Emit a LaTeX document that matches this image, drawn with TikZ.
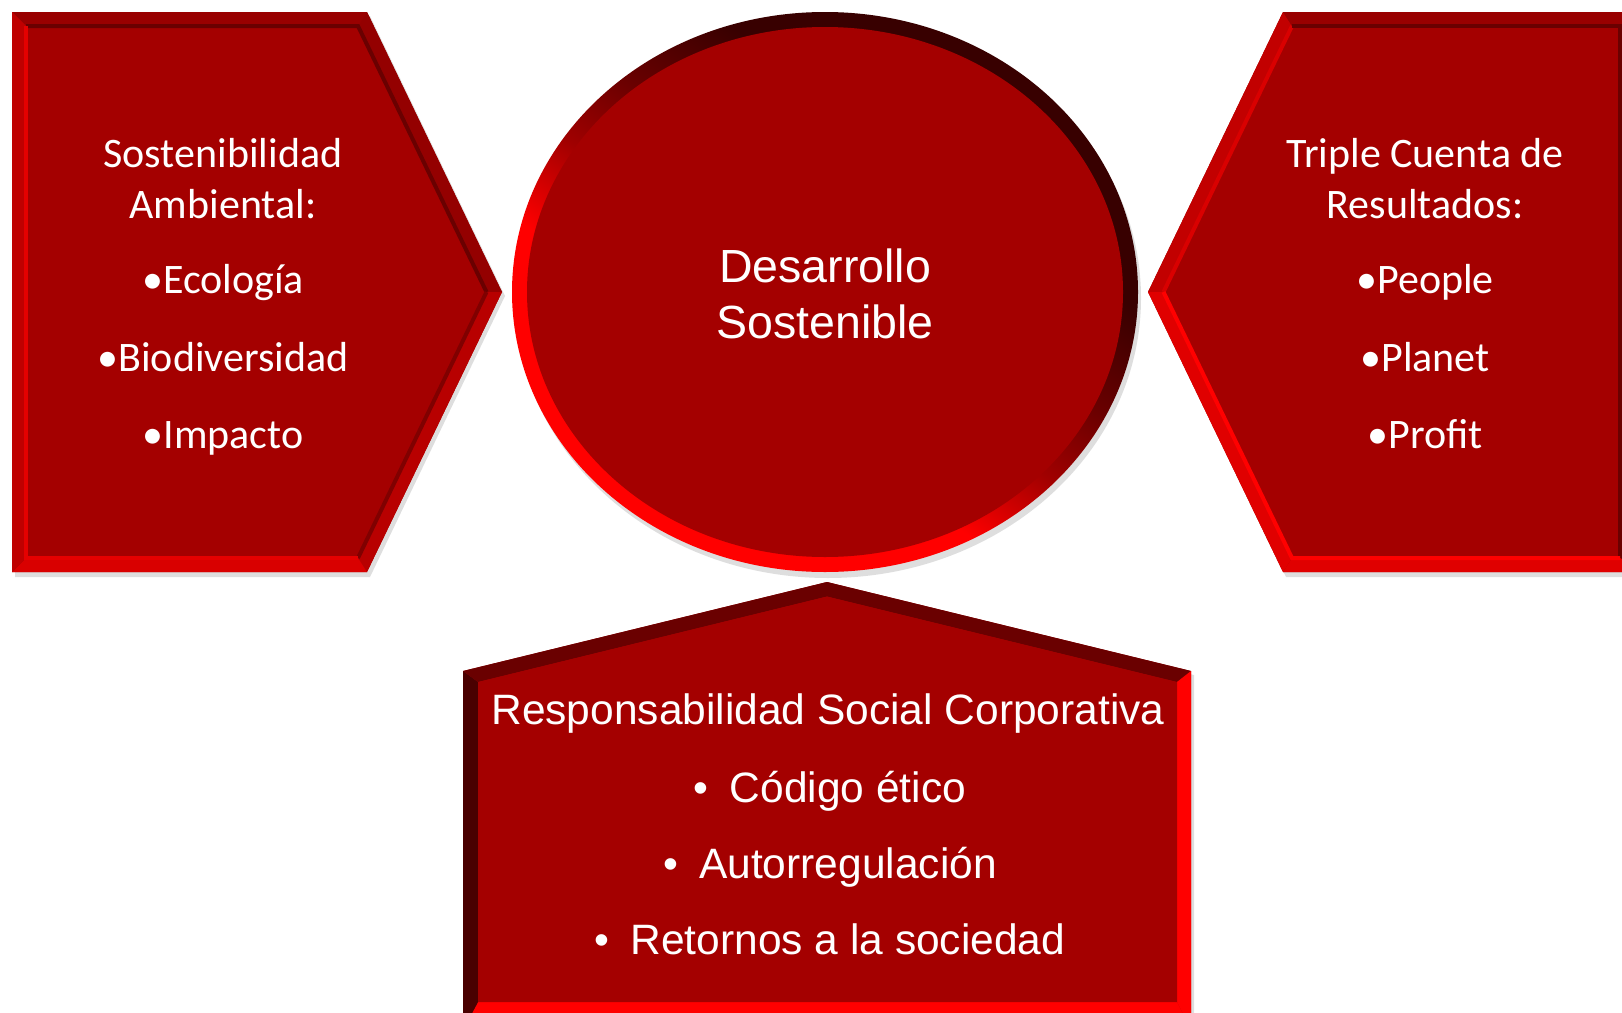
\documentclass[tikz,border=0pt]{standalone}
\usepackage{fontspec}
\setmainfont{Carlito}
\newfontfamily\arialf{Liberation Sans}
\definecolor{basered}{HTML}{A40000}
\definecolor{darkband}{HTML}{6A0000}
\definecolor{vdark}{HTML}{4A0000}
\definecolor{brightred}{HTML}{FF0000}
\definecolor{midred}{HTML}{C40000}
\definecolor{ringdark}{HTML}{380000}
\definecolor{ringmid}{HTML}{A00000}
\pgfdeclareverticalshading{ringshade}{100bp}{color(0bp)=(brightred); color(40bp)=(brightred); color(48bp)=(ringmid); color(55bp)=(darkband); color(64bp)=(ringdark); color(100bp)=(ringdark)}
\begin{document}
\begin{tikzpicture}[x=0.5pt,y=-0.5pt,
  sidetext/.style={text=white, font=\fontsize{21pt}{25pt}\selectfont, anchor=base, inner sep=0pt},
  centertext/.style={text=white, font=\arialf\fontsize{23.25pt}{28pt}\selectfont, anchor=base, inner sep=0pt},
  bottomtext/.style={text=white, font=\arialf\fontsize{21.25pt}{26pt}\selectfont, anchor=base, inner sep=0pt},
  shadowfill/.style={fill=black, opacity=0.13},
  stripe/.style={line width=2pt, line join=miter}]
\useasboundingbox (0,0) rectangle (1622,1012);
\clip (0,0) rectangle (1622,1012);
\fill[white] (0,0) rectangle (1622,1012);

% ---------- shadows ----------
\fill[shadowfill] (15,16) -- (370,16) -- (505,296) -- (370,577) -- (15,577) -- cycle;
\fill[shadowfill] (1151,296) -- (1286,16) -- (1643,16) -- (1643,577) -- (1286,577) -- cycle;
\fill[shadowfill] (828,298) ellipse [x radius=313, y radius=280];

% ---------- left pentagon ----------
\fill[basered] (12,12) -- (367,12) -- (502,292) -- (367,572) -- (12,572) -- cycle;
\fill[fill=red!60!black] (12,12) -- (367,12) -- (358,26) -- (26,26) -- cycle;
\fill[fill=red!58!black] (367,12) -- (502,292) -- (486.5,292) -- (358,26) -- cycle;
\fill[fill=red!72!black] (502,292) -- (367,572) -- (358,558) -- (486.5,292) -- cycle;
\fill[fill=red!85!black] (367,572) -- (12,572) -- (26,558) -- (358,558) -- cycle;
\fill[fill=red!75!black] (12,572) -- (12,12) -- (26,26) -- (26,558) -- cycle;
\fill[basered] (26,26) -- (358,26) -- (486.5,292) -- (358,558) -- (26,558) -- cycle;
\draw[stripe, darkband] (26,26) -- (358,26) -- (486.5,292);
\draw[stripe, red!50!black] (486.5,292) -- (358,558);
\draw[stripe, red!90!black] (358,558) -- (26,558) -- (26,26);

% ---------- right pentagon ----------
\fill[basered] (1148,292) -- (1283,12) -- (1640,12) -- (1640,572) -- (1283,572) -- cycle;
\fill[fill=red!76!black] (1148,292) -- (1283,12) -- (1292,26) -- (1163.5,292) -- cycle;
\fill[fill=red!60!black] (1283,12) -- (1640,12) -- (1620,26) -- (1292,26) -- cycle;
\fill[fill=red!50!black] (1640,12) -- (1640,572) -- (1620,558) -- (1620,26) -- cycle;
\fill[fill=red!88!black] (1640,572) -- (1283,572) -- (1292,558) -- (1620,558) -- cycle;
\fill[fill=red!88!black] (1283,572) -- (1148,292) -- (1163.5,292) -- (1292,558) -- cycle;
\fill[basered] (1163.5,292) -- (1292,26) -- (1620,26) -- (1620,558) -- (1292,558) -- cycle;
\draw[stripe, red!85!black] (1163.5,292) -- (1292,26);
\draw[stripe, darkband] (1292,26) -- (1620,26) -- (1620,558);
\draw[stripe, brightred] (1620,558) -- (1292,558) -- (1163.5,292);

% ---------- central ellipse ----------
\path[shading=ringshade, shading angle=-35]
  (825,292) ellipse [x radius=313, y radius=280];
\fill[basered] (825,292) ellipse [x radius=298, y radius=265];

% ---------- bottom house ----------
\fill[shadowfill] (830,586) -- (1194,675) -- (1194,1030) -- (466,1030) -- (466,675) -- cycle;
\fill[basered] (827,582) -- (1191,671) -- (1191,1030) -- (463,1030) -- (463,671) -- cycle;
\fill[darkband] (827,582) -- (1191,671) -- (1177,682) -- (827,596.5) -- cycle;
\fill[brightred] (1191,671) -- (1191,1030) -- (1177,1002) -- (1177,682) -- cycle;
\fill[brightred] (1191,1030) -- (463,1030) -- (478,1002) -- (1177,1002) -- cycle;
\fill[vdark] (463,1030) -- (463,671) -- (478,682) -- (478,1002) -- cycle;
\fill[darkband] (463,671) -- (827,582) -- (827,596.5) -- (478,682) -- cycle;
\fill[basered] (827,596.5) -- (1177,682) -- (1177,1002) -- (478,1002) -- (478,682) -- cycle;
\draw[line width=1.5pt, red!20!brightred] (1184,678) -- (1184,1010);

% ---------- texts ----------
\node[sidetext] (l1) at (223,167) {Sostenibilidad};
\node[sidetext] (l2) at (223,218) {Ambiental:};
\node[sidetext] (l3) at (223,293) {•Ecología};
\node[sidetext] (l4) at (223,371) {•Biodiversidad};
\node[sidetext] (l5) at (223,448) {•Impacto};

\node[sidetext] (r1) at (1425,167) {Triple Cuenta de};
\node[sidetext] (r2) at (1425,218) {Resultados:};
\node[sidetext] (r3) at (1425,293) {•People};
\node[sidetext] (r4) at (1425,371) {•Planet};
\node[sidetext] (r5) at (1425,448) {•Profit};

\node[centertext] (c1) at (825,282) {Desarrollo};
\node[centertext] (c2) at (825,338) {Sostenible};

\node[bottomtext] (b1) at (828,724) {Responsabilidad Social Corporativa};
\node[bottomtext] (b2) at (830,802) {•\hspace{10.5pt}Código ético};
\node[bottomtext] (b3) at (830,878) {•\hspace{10.5pt}Autorregulación};
\node[bottomtext] (b4) at (830,954) {•\hspace{10.5pt}Retornos a la sociedad};
\end{tikzpicture}
\end{document}
